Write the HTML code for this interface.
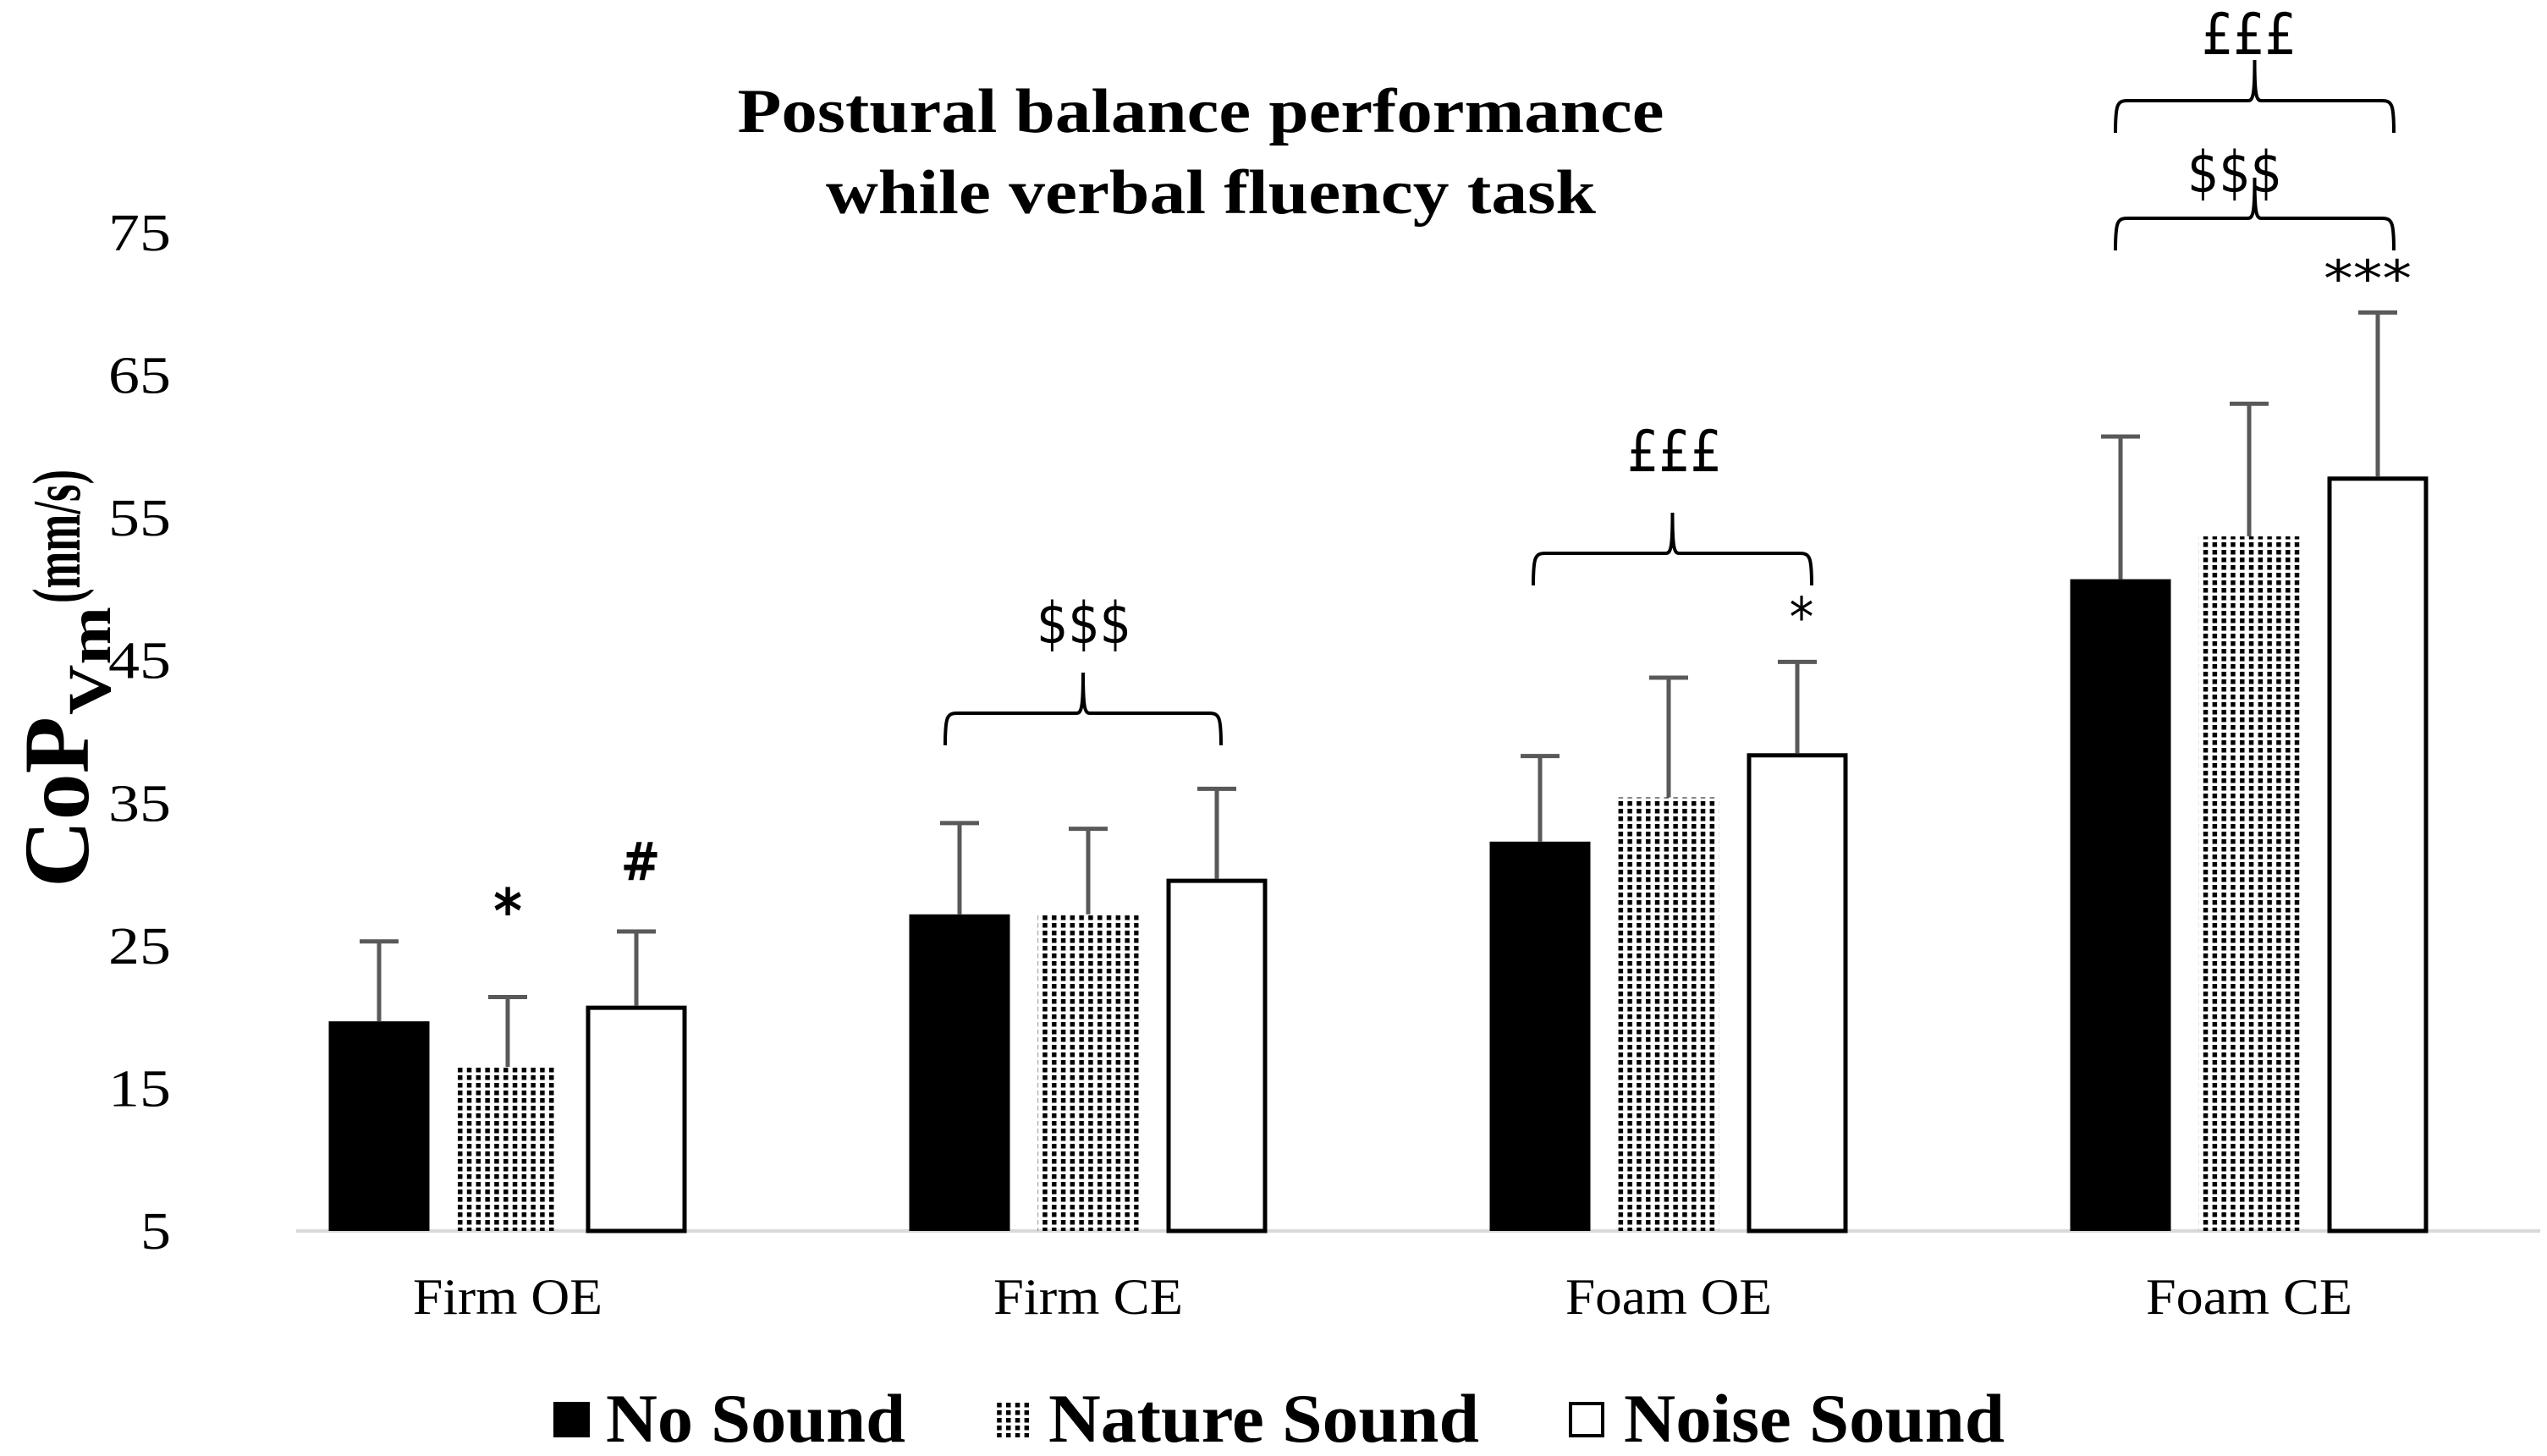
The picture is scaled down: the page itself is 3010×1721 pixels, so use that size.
<!DOCTYPE html>
<html><head><meta charset="utf-8"><style>html,body{margin:0;padding:0;background:#fff}svg{display:block}</style></head>
<body>
<svg id="chart" width="3010" height="1721" viewBox="0 0 3010 1721" xmlns="http://www.w3.org/2000/svg">
<defs>
<pattern id="dots" width="10.8" height="9" patternUnits="userSpaceOnUse">
<rect x="1" y="2" width="5.5" height="5.5" fill="#000"/>
</pattern>
</defs>
<rect width="3010" height="1721" fill="#fff"/>
<g font-family="Liberation Serif, serif" font-weight="bold" font-size="74" text-anchor="middle">
<text x="1419" y="156" textLength="1095" lengthAdjust="spacingAndGlyphs">Postural balance performance</text>
<text x="1431" y="252" textLength="910" lengthAdjust="spacingAndGlyphs">while verbal fluency task</text>
</g>
<g id="yticks"></g>
<line x1="350" y1="1455" x2="3002" y2="1455" stroke="#d9d9d9" stroke-width="4"/>
<g id="bars"></g>
<g id="xlabels"></g>
<g transform="translate(104,1049) rotate(-90)" font-family="Liberation Serif, serif" font-weight="bold">
<text x="0" y="0" font-size="110" textLength="202" lengthAdjust="spacingAndGlyphs">CoP</text>
<text x="204" y="26" font-size="72" textLength="128" lengthAdjust="spacingAndGlyphs">Vm</text>
<text x="336" y="-10" font-size="80" textLength="158" lengthAdjust="spacingAndGlyphs">(mm/s)</text>
</g>
<g id="annot" font-family="DejaVu Sans Condensed, DejaVu Sans, sans-serif" text-anchor="middle"></g>
<g font-family="Liberation Serif, serif" font-weight="bold" font-size="82">
<g>
<rect x="654" y="1657" width="43" height="42" fill="#000"/>
<text x="716" y="1704" textLength="354" lengthAdjust="spacingAndGlyphs">No Sound</text></g>
<g>
<rect x="1174" y="1657" width="42" height="42" fill="url(#dots)"/>
<text x="1239" y="1704" textLength="509" lengthAdjust="spacingAndGlyphs">Nature Sound</text></g>
<g>
<rect x="1856" y="1659" width="38" height="38" fill="#fff" stroke="#000" stroke-width="4"/>
<text x="1919" y="1704" textLength="450" lengthAdjust="spacingAndGlyphs">Noise Sound</text></g>
</g>
</svg>
<script>
const categories = ["Firm OE", "Firm CE", "Foam OE", "Foam CE"];
const noSound = [19.7, 27.2, 32.3, 50.7];
const natureSound = [16.5, 27.2, 35.4, 53.7];
const noiseSound = [20.8, 29.7, 38.5, 57.9];
const noSoundErr = [5.6, 6.4, 6.0, 10.0];
const natureSoundErr = [4.9, 6.0, 8.4, 9.3];
const noiseSoundErr = [5.2, 6.3, 6.4, 11.5];
const yTicks = [5, 15, 25, 35, 45, 55, 65, 75];

const NS = "http://www.w3.org/2000/svg";
const yMin = 5, yMax = 75, yBase = 1455, yTop = 275;
function y(v){ return yBase - (v - yMin) / (yMax - yMin) * (yBase - yTop); }
const cx0 = 600, cStep = 686;
function xc(i){ return cx0 + i * cStep; }
const barW = 119, offset = 152;
function mk(tag, attrs, parent){ const e = document.createElementNS(NS, tag); for (const k in attrs) e.setAttribute(k, attrs[k]); parent.appendChild(e); return e; }

const yt = document.getElementById('yticks');
yTicks.forEach(t => {
  const s = String(t);
  const e = mk('text', {x: 202, y: y(t) + 21, 'text-anchor': 'end', 'font-family': 'Liberation Serif, serif', 'font-size': 62, textLength: s.length === 1 ? 36 : 74, lengthAdjust: 'spacingAndGlyphs'}, yt);
  
  
  e.textContent = s;
});

const xl = document.getElementById('xlabels');
categories.forEach((c, i) => {
  const e = mk('text', {x: xc(i), y: 1553, 'text-anchor': 'middle', 'font-family': 'Liberation Serif, serif', 'font-size': 60, textLength: c.indexOf('Foam') === 0 ? 244 : 224, lengthAdjust: 'spacingAndGlyphs'}, xl);
  
  
  e.textContent = c;
});

const bars = document.getElementById('bars');
const series = [
  {vals: noSound, err: noSoundErr, off: -offset, fill: '#000', stroke: 'none', name: 'no-sound'},
  {vals: natureSound, err: natureSoundErr, off: 0, fill: 'url(#dots)', stroke: 'none', name: 'nature-sound'},
  {vals: noiseSound, err: noiseSoundErr, off: offset, fill: '#fff', stroke: '#000', name: 'noise-sound'}
];
series.forEach(s => {
  s.vals.forEach((v, i) => {
    const x = xc(i) + s.off - barW / 2;
    const top = y(v);
    let r;
    if (s.stroke === 'none') {
      r = mk('rect', {x: x, y: top, width: barW, height: yBase - top, fill: s.fill}, bars);
    } else {
      r = mk('rect', {x: x + 2.5, y: top + 2.5, width: barW - 5, height: yBase - top - 2.5, fill: s.fill, stroke: s.stroke, 'stroke-width': 5}, bars);
    }
    
    
    const et = y(v + s.err[i]);
    const ex = xc(i) + s.off;
    const l = mk('path', {d: `M${ex},${top} V${et} M${ex - 23},${et} H${ex + 23}`, stroke: '#595959', 'stroke-width': 5, fill: 'none'}, bars);
    
    
  });
});

const an = document.getElementById('annot');
function label(txt, x, yy, size, w, name, bold){
  const e = mk('text', {x: x, y: yy, 'font-size': size}, an);
  if (w) { e.setAttribute('textLength', w); e.setAttribute('lengthAdjust', 'spacingAndGlyphs'); }
  if (bold) e.setAttribute('font-weight', 'bold');
  
  
  e.textContent = txt;
}
function brace(x1, x2, yl, name){
  const m = (x1 + x2) / 2, d = 38, pk = 48;
  const p = `M${x1},${yl + d} C${x1},${yl + 5} ${x1 + 2},${yl} ${x1 + 14},${yl} H${m - 8} C${m - 2},${yl} ${m},${yl - 6} ${m},${yl - pk} C${m},${yl - 6} ${m + 2},${yl} ${m + 8},${yl} H${x2 - 14} C${x2 - 2},${yl} ${x2},${yl + 5} ${x2},${yl + d}`;
  const e = mk('path', {d: p, stroke: '#000', 'stroke-width': 4, fill: 'none'}, an);
  
  
}
label('*', xc(0), 1102, 72, null, 'sig-star-firm-oe-nature', true);
label('#', xc(0) + offset + 5, 1040, 62, null, 'sig-hash-firm-oe-noise', true);
brace(xc(1) - 169, xc(1) + 157, 843, 'brace-firm-ce');
label('$$$', xc(1) - 5, 760, 68, 112, 'sig-dollar-firm-ce');
brace(xc(2) - 160, xc(2) + 169, 654, 'brace-foam-oe');
label('£££', xc(2) + 7, 557, 68, 112, 'sig-pound-foam-oe');
label('*', xc(2) + offset + 5, 752, 64, null, 'sig-star-foam-oe-noise');
brace(xc(3) - 158, xc(3) + 171, 119, 'brace-foam-ce-top');
label('£££', xc(3), 64, 68, 112, 'sig-pound-foam-ce');
brace(xc(3) - 158, xc(3) + 171, 258, 'brace-foam-ce-bottom');
label('$$$', xc(3) - 17, 227, 68, 112, 'sig-dollar-foam-ce');
label('***', xc(3) + 140, 350, 60, 104, 'sig-stars-foam-ce-noise');
</script>
</body></html>
